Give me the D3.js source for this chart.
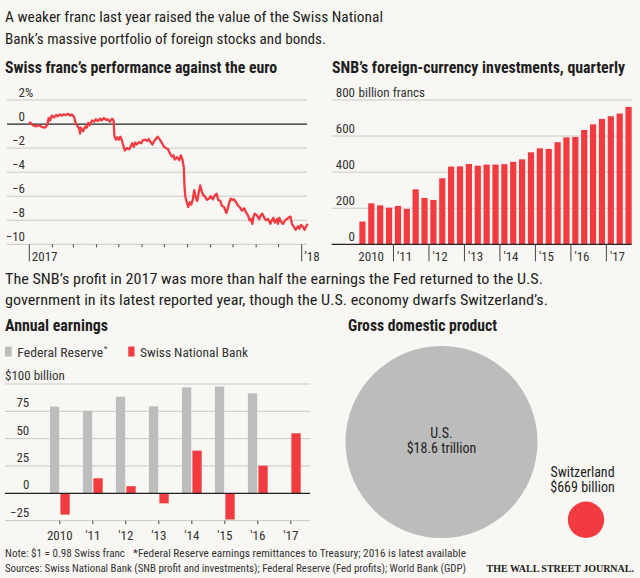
<!DOCTYPE html>
<html><head><meta charset="utf-8">
<script src="https://cdn.jsdelivr.net/npm/d3@7"></script>
<style>
html,body{margin:0;padding:0;background:#f8f7f3;}
svg{display:block;}
</style></head>
<body>
<script>
// ---------- DATA ----------
// Swiss franc vs euro, % change since start of 2017 (days since 2017-01-01)
const francDays = [0,2,5,9,13,17,21,24,26,28,30,33,36,38,41,44,46,49,52,55,57,60,62,64,67,68,69,72,75,77,79,81,84,87,89,92,95,97,100,103,105,108,111,113,114,116,118,120,122,124,126,128,131,134,136,138,140,142,144,147,150,152,155,158,160,163,165,167,170,172,175,178,180,183,186,188,191,193,195,198,201,203,205,207,208,209,211,213,215,217,219,221,223,225,227,229,231,233,235,238,241,243,246,249,251,253,256,258,261,264,266,268,270,272,274,277,280,282,285,288,290,293,295,297,299,300,302,305,308,310,312,315,317,320,323,325,327,329,332,333,335,337,340,343,345,348,350,352,354,357,360,362,364,366,369,370,373];
const francValues = [0.2,0.05,-0.1,-0.2,-0.1,-0.25,-0.3,-0.1,0.5,0.3,0.7,0.55,0.75,0.65,0.8,0.7,0.8,0.75,0.85,0.7,0.8,0.6,0.1,-0.1,-0.4,-0.8,-0.3,-0.6,-0.2,-0.3,0.1,-0.1,0.3,0.2,0.4,0.25,0.45,0.3,0.5,0.35,0.4,0.2,0.45,0.3,-1.0,-1.3,-1.1,-1.3,-1.05,-1.35,-1.8,-2.2,-2.0,-2.1,-1.85,-1.6,-1.9,-1.55,-1.7,-1.5,-1.6,-1.35,-1.3,-1.4,-1.25,-1.55,-1.7,-1.45,-1.2,-1.05,-1.3,-1.6,-1.85,-2.0,-2.1,-2.4,-2.7,-2.6,-2.95,-2.75,-3.0,-2.6,-2.9,-3.6,-5.2,-6.0,-6.5,-6.9,-6.5,-6.7,-6.3,-5.5,-6.1,-6.4,-5.7,-5.1,-5.6,-5.9,-6.0,-6.3,-6.2,-6.0,-6.25,-5.9,-5.8,-6.3,-6.4,-6.8,-6.9,-7.4,-7.0,-6.5,-6.2,-6.3,-6.25,-6.5,-6.8,-6.9,-7.2,-7.0,-7.3,-7.6,-8.0,-7.9,-8.3,-7.8,-7.45,-7.6,-7.9,-7.6,-7.45,-7.8,-8.0,-7.9,-8.3,-8.0,-7.8,-8.2,-7.9,-8.3,-7.8,-8.1,-8.3,-8.0,-7.9,-7.75,-7.7,-8.3,-8.5,-8.8,-8.5,-8.7,-8.4,-8.5,-8.8,-8.6,-8.3];
const francTicks = [2,0,-2,-4,-6,-8,-10];

// SNB foreign-currency investments, billion francs, 2010Q1 - 2017Q3
const quarters = ["2010Q1","2010Q2","2010Q3","2010Q4","2011Q1","2011Q2","2011Q3","2011Q4","2012Q1","2012Q2","2012Q3","2012Q4","2013Q1","2013Q2","2013Q3","2013Q4","2014Q1","2014Q2","2014Q3","2014Q4","2015Q1","2015Q2","2015Q3","2015Q4","2016Q1","2016Q2","2016Q3","2016Q4","2017Q1","2017Q2","2017Q3"];
const investments = [126,227,216,203,213,196,305,257,246,366,431,432,445,436,442,442,444,457,471,510,532,529,566,593,595,634,665,695,710,725,762];
const investTicks = [0,200,400,600,800];
const investYearLabels = ["2010","'11","'12","'13","'14","'15","'16","'17"];

// Annual earnings, $ billion
const years = ["2010","2011","2012","2013","2014","2015","2016","2017"];
const yearLabels = ["2010","'11","'12","'13","'14","'15","'16","'17"];
const fedEarnings = [79.3,75.4,88.4,79.6,96.9,97.7,91.5,null];
const snbEarnings = [-19.5,13.7,6.5,-9.2,39.0,-24.0,25.2,54.9];
const earningsTicks = [-25,0,25,50,75,100];

// GDP, $ trillion
const gdpNames = ["U.S.","Switzerland"];
const gdpValues = [18.6,0.669];
const gdpLabels = ["$18.6 trillion","$669 billion"];

// ---------- STYLE ----------
const RED = "#f23b40", GRAY = "#bdbdbd", GRID = "#c9c9c6", INK = "#1e1e1e", TICKINK = "#333";
const FONT = "'Liberation Sans Narrow','Roboto Condensed','Arial Narrow','DejaVu Sans Condensed',sans-serif";

const W = 640, H = 578;
const svg = d3.select("body").append("svg").attr("width", W).attr("height", H)
  .style("font-family", FONT);
svg.append("rect").attr("width", W).attr("height", H).attr("fill", "#f8f7f3");

function txt(sel, x, y, s, o = {}) {
  const t = sel.append("text").attr("x", x).attr("y", y).text(s)
    .attr("font-size", o.size || 13).attr("fill", o.fill || INK)
    .attr("text-anchor", o.anchor || "start");
  if (o.weight) t.attr("font-weight", o.weight);
  if (o.family) t.attr("font-family", o.family);
  if (o.len) t.attr("textLength", o.len).attr("lengthAdjust", "spacingAndGlyphs");
  return t;
}

// ---------- HEADLINE TEXT ----------
txt(svg, 5, 22, "A weaker franc last year raised the value of the Swiss National", {size: 15, len: 378});
txt(svg, 5, 44, "Bank\u2019s massive portfolio of foreign stocks and bonds.", {size: 15, len: 321});

// ---------- CHART 1: franc line ----------
const g1 = svg.append("g");
txt(g1, 5, 73, "Swiss franc\u2019s performance against the euro", {size: 16, weight: "bold", len: 272});
const x1 = d3.scaleTime().domain([new Date(2017,0,1), new Date(2018,0,1)]).range([29.3, 301.7]);
const y1 = d3.scaleLinear().domain([-10, 2]).range([244.3, 100]);
g1.selectAll("line.grid").data(francTicks).join("line")
  .attr("x1", 7).attr("x2", 307).attr("y1", d => y1(d)).attr("y2", d => y1(d))
  .attr("stroke", d => d === 0 ? "#222" : GRID).attr("stroke-width", d => d === 0 ? 1.2 : 1);
francTicks.forEach(d => {
  const lab = d < 0 ? "\u2212" + Math.abs(d) : String(d);
  txt(g1, 25, y1(d) - 3.5, lab, {size: 13, anchor: "end", fill: TICKINK});
  if (d === 2) txt(g1, 25, y1(d) - 3.5, "%", {size: 13, fill: TICKINK});
});
// month ticks
const months = d3.timeMonth.range(new Date(2017,1,1), new Date(2018,0,1));
g1.selectAll("line.mt").data(months).join("line")
  .attr("x1", d => x1(d)).attr("x2", d => x1(d)).attr("y1", y1(-10)).attr("y2", y1(-10) + 3)
  .attr("stroke", "#444").attr("stroke-width", 1);
[new Date(2017,0,1), new Date(2018,0,1)].forEach((d, i) => {
  g1.append("line").attr("x1", x1(d)).attr("x2", x1(d)).attr("y1", y1(-10)).attr("y2", y1(-10) + 17)
    .attr("stroke", "#444").attr("stroke-width", 1);
  txt(g1, x1(d) + 2.5, 261, i === 0 ? "2017" : "\u201918", {size: 13, fill: TICKINK});
});
const francData = francDays.map((d, i) => ({date: d3.timeDay.offset(new Date(2017,0,1), d), v: francValues[i]}));
g1.append("path").datum(francData)
  .attr("d", d3.line().x(d => x1(d.date)).y(d => y1(d.v)))
  .attr("fill", "none").attr("stroke", RED).attr("stroke-width", 2.3).attr("stroke-linejoin", "round");

// ---------- CHART 2: investments bars ----------
const g2 = svg.append("g");
txt(g2, 332, 73, "SNB\u2019s foreign-currency investments, quarterly", {size: 16, weight: "bold", len: 293});
const x2 = d3.scaleBand().domain(quarters).range([358, 633]).paddingInner(0.3).paddingOuter(0.15);
const y2 = d3.scaleLinear().domain([0, 800]).range([244.3, 100]);
g2.selectAll("line.grid").data(investTicks.filter(d => d > 0)).join("line")
  .attr("x1", 331.7).attr("x2", 631.7).attr("y1", d => y2(d)).attr("y2", d => y2(d))
  .attr("stroke", GRID);
investTicks.forEach(d => {
  txt(g2, 355, y2(d) - 3.5, String(d), {size: 13, anchor: "end", fill: TICKINK});
  if (d === 800) txt(g2, 358.5, y2(d) - 3.5, "billion francs", {size: 13, fill: TICKINK});
});
g2.selectAll("rect.bar").data(quarters).join("rect")
  .attr("x", d => x2(d)).attr("width", x2.bandwidth())
  .attr("y", (d, i) => y2(investments[i])).attr("height", (d, i) => y2(0) - y2(investments[i]))
  .attr("fill", RED);
g2.append("line").attr("x1", 331.7).attr("x2", 631.7).attr("y1", y2(0)).attr("y2", y2(0))
  .attr("stroke", "#222").attr("stroke-width", 1.2);
investYearLabels.forEach((lab, i) => {
  const q = quarters[i * 4];
  const xt = x2(q) - x2.step() * x2.paddingInner() / 2;
  if (i === 0) {
    txt(g2, x2(q) - 1, 261, lab, {size: 13, fill: TICKINK});
  } else {
    g2.append("line").attr("x1", xt).attr("x2", xt).attr("y1", y2(0)).attr("y2", y2(0) + 17)
      .attr("stroke", "#444");
    txt(g2, xt + 3.5, 261, lab, {size: 13, fill: TICKINK});
  }
});

// ---------- MIDDLE TEXT ----------
txt(svg, 5, 284, "The SNB\u2019s profit in 2017 was more than half the earnings the Fed returned to the U.S.", {size: 15, len: 538});
txt(svg, 5, 305, "government in its latest reported year, though the U.S. economy dwarfs Switzerland\u2019s.", {size: 15, len: 543});

// ---------- CHART 3: annual earnings ----------
const g3 = svg.append("g");
txt(g3, 5, 331, "Annual earnings", {size: 16, weight: "bold", len: 103});
// legend
g3.append("rect").attr("x", 5).attr("y", 346.5).attr("width", 6.7).attr("height", 10).attr("fill", GRAY);
txt(g3, 17.3, 356.5, "Federal Reserve", {size: 13, fill: TICKINK, len: 86});
txt(g3, 104, 351, "*", {size: 8, fill: TICKINK});
g3.append("rect").attr("x", 128.3).attr("y", 346.5).attr("width", 6.2).attr("height", 10).attr("fill", RED);
txt(g3, 140, 356.5, "Swiss National Bank", {size: 13, fill: TICKINK, len: 108});

const x3 = d3.scaleBand().domain(years).range([43.3, 307.3]).padding(0);
const x3s = d3.scaleBand().domain(["fed","snb"]).range([0, x3.bandwidth()]).paddingInner(0.114).paddingOuter(0.63);
const y3 = d3.scaleLinear().domain([-25, 100]).range([520.6, 384]);
g3.selectAll("line.grid").data(earningsTicks.filter(d => d !== 0)).join("line")
  .attr("x1", 5).attr("x2", 310).attr("y1", d => y3(d)).attr("y2", d => y3(d))
  .attr("stroke", GRID);
earningsTicks.forEach(d => {
  if (d === 100) { txt(g3, 5, y3(d) - 4, "$100 billion", {size: 13, fill: TICKINK}); return; }
  const lab = d < 0 ? "\u2212" + Math.abs(d) : String(d);
  txt(g3, 29.3, y3(d) - 4, lab, {size: 13, anchor: "end", fill: TICKINK});
});
const fedData = years.map((y, i) => ({y, v: fedEarnings[i]})).filter(d => d.v != null);
const snbData = years.map((y, i) => ({y, v: snbEarnings[i]}));
g3.selectAll("rect.fed").data(fedData).join("rect")
  .attr("x", d => x3(d.y) + x3s("fed")).attr("width", x3s.bandwidth())
  .attr("y", d => y3(Math.max(0, d.v))).attr("height", d => Math.abs(y3(d.v) - y3(0)))
  .attr("fill", GRAY);
g3.selectAll("rect.snb").data(snbData).join("rect")
  .attr("x", d => x3(d.y) + x3s("snb")).attr("width", x3s.bandwidth())
  .attr("y", d => y3(Math.max(0, d.v))).attr("height", d => Math.abs(y3(d.v) - y3(0)))
  .attr("fill", RED);
g3.append("line").attr("x1", 5).attr("x2", 310).attr("y1", y3(0)).attr("y2", y3(0))
  .attr("stroke", "#222").attr("stroke-width", 1.2);
years.forEach((y, i) => {
  const xc = x3(y) + x3.bandwidth() / 2;
  g3.append("line").attr("x1", xc).attr("x2", xc).attr("y1", y3(-25)).attr("y2", y3(-25) + 3.5)
    .attr("stroke", "#444");
  txt(g3, xc, 539.5, yearLabels[i], {size: 13, anchor: "middle", fill: TICKINK});
});

// ---------- CHART 4: GDP circles ----------
const g4 = svg.append("g");
txt(g4, 348, 331, "Gross domestic product", {size: 16, weight: "bold", len: 149});
const r4 = d3.scaleSqrt().domain([0, 18.6]).range([0, 96]);
const cx4 = [441.5, 586];
const base4 = 538;
gdpValues.forEach((v, i) => {
  const r = r4(v);
  g4.append("circle").attr("cx", cx4[i]).attr("cy", base4 - r).attr("r", r)
    .attr("fill", i === 0 ? "#bcbcbc" : RED);
});
txt(g4, cx4[0], 438, gdpNames[0], {size: 14, anchor: "middle", fill: INK});
txt(g4, cx4[0], 452.5, gdpLabels[0], {size: 14, anchor: "middle", fill: INK});
txt(g4, 582.5, 476.5, gdpNames[1], {size: 14, anchor: "middle", fill: INK});
txt(g4, 582.5, 491.5, gdpLabels[1], {size: 14, anchor: "middle", fill: INK});

// ---------- FOOTER ----------
txt(svg, 5, 557, "Note: $1 = 0.98 Swiss franc", {size: 11, fill: "#333", len: 120});
txt(svg, 133, 557, "*Federal Reserve earnings remittances to Treasury; 2016 is latest available", {size: 11, fill: "#333", len: 333});
txt(svg, 5, 571.5, "Sources: Swiss National Bank (SNB profit and investments); Federal Reserve (Fed profits); World Bank (GDP)", {size: 11, fill: "#333", len: 461});
txt(svg, 634, 571.5, "THE WALL STREET JOURNAL.", {size: 10, weight: "bold", anchor: "end", family: "'Liberation Serif','DejaVu Serif',serif", fill: "#222"});
</script>
</body></html>
